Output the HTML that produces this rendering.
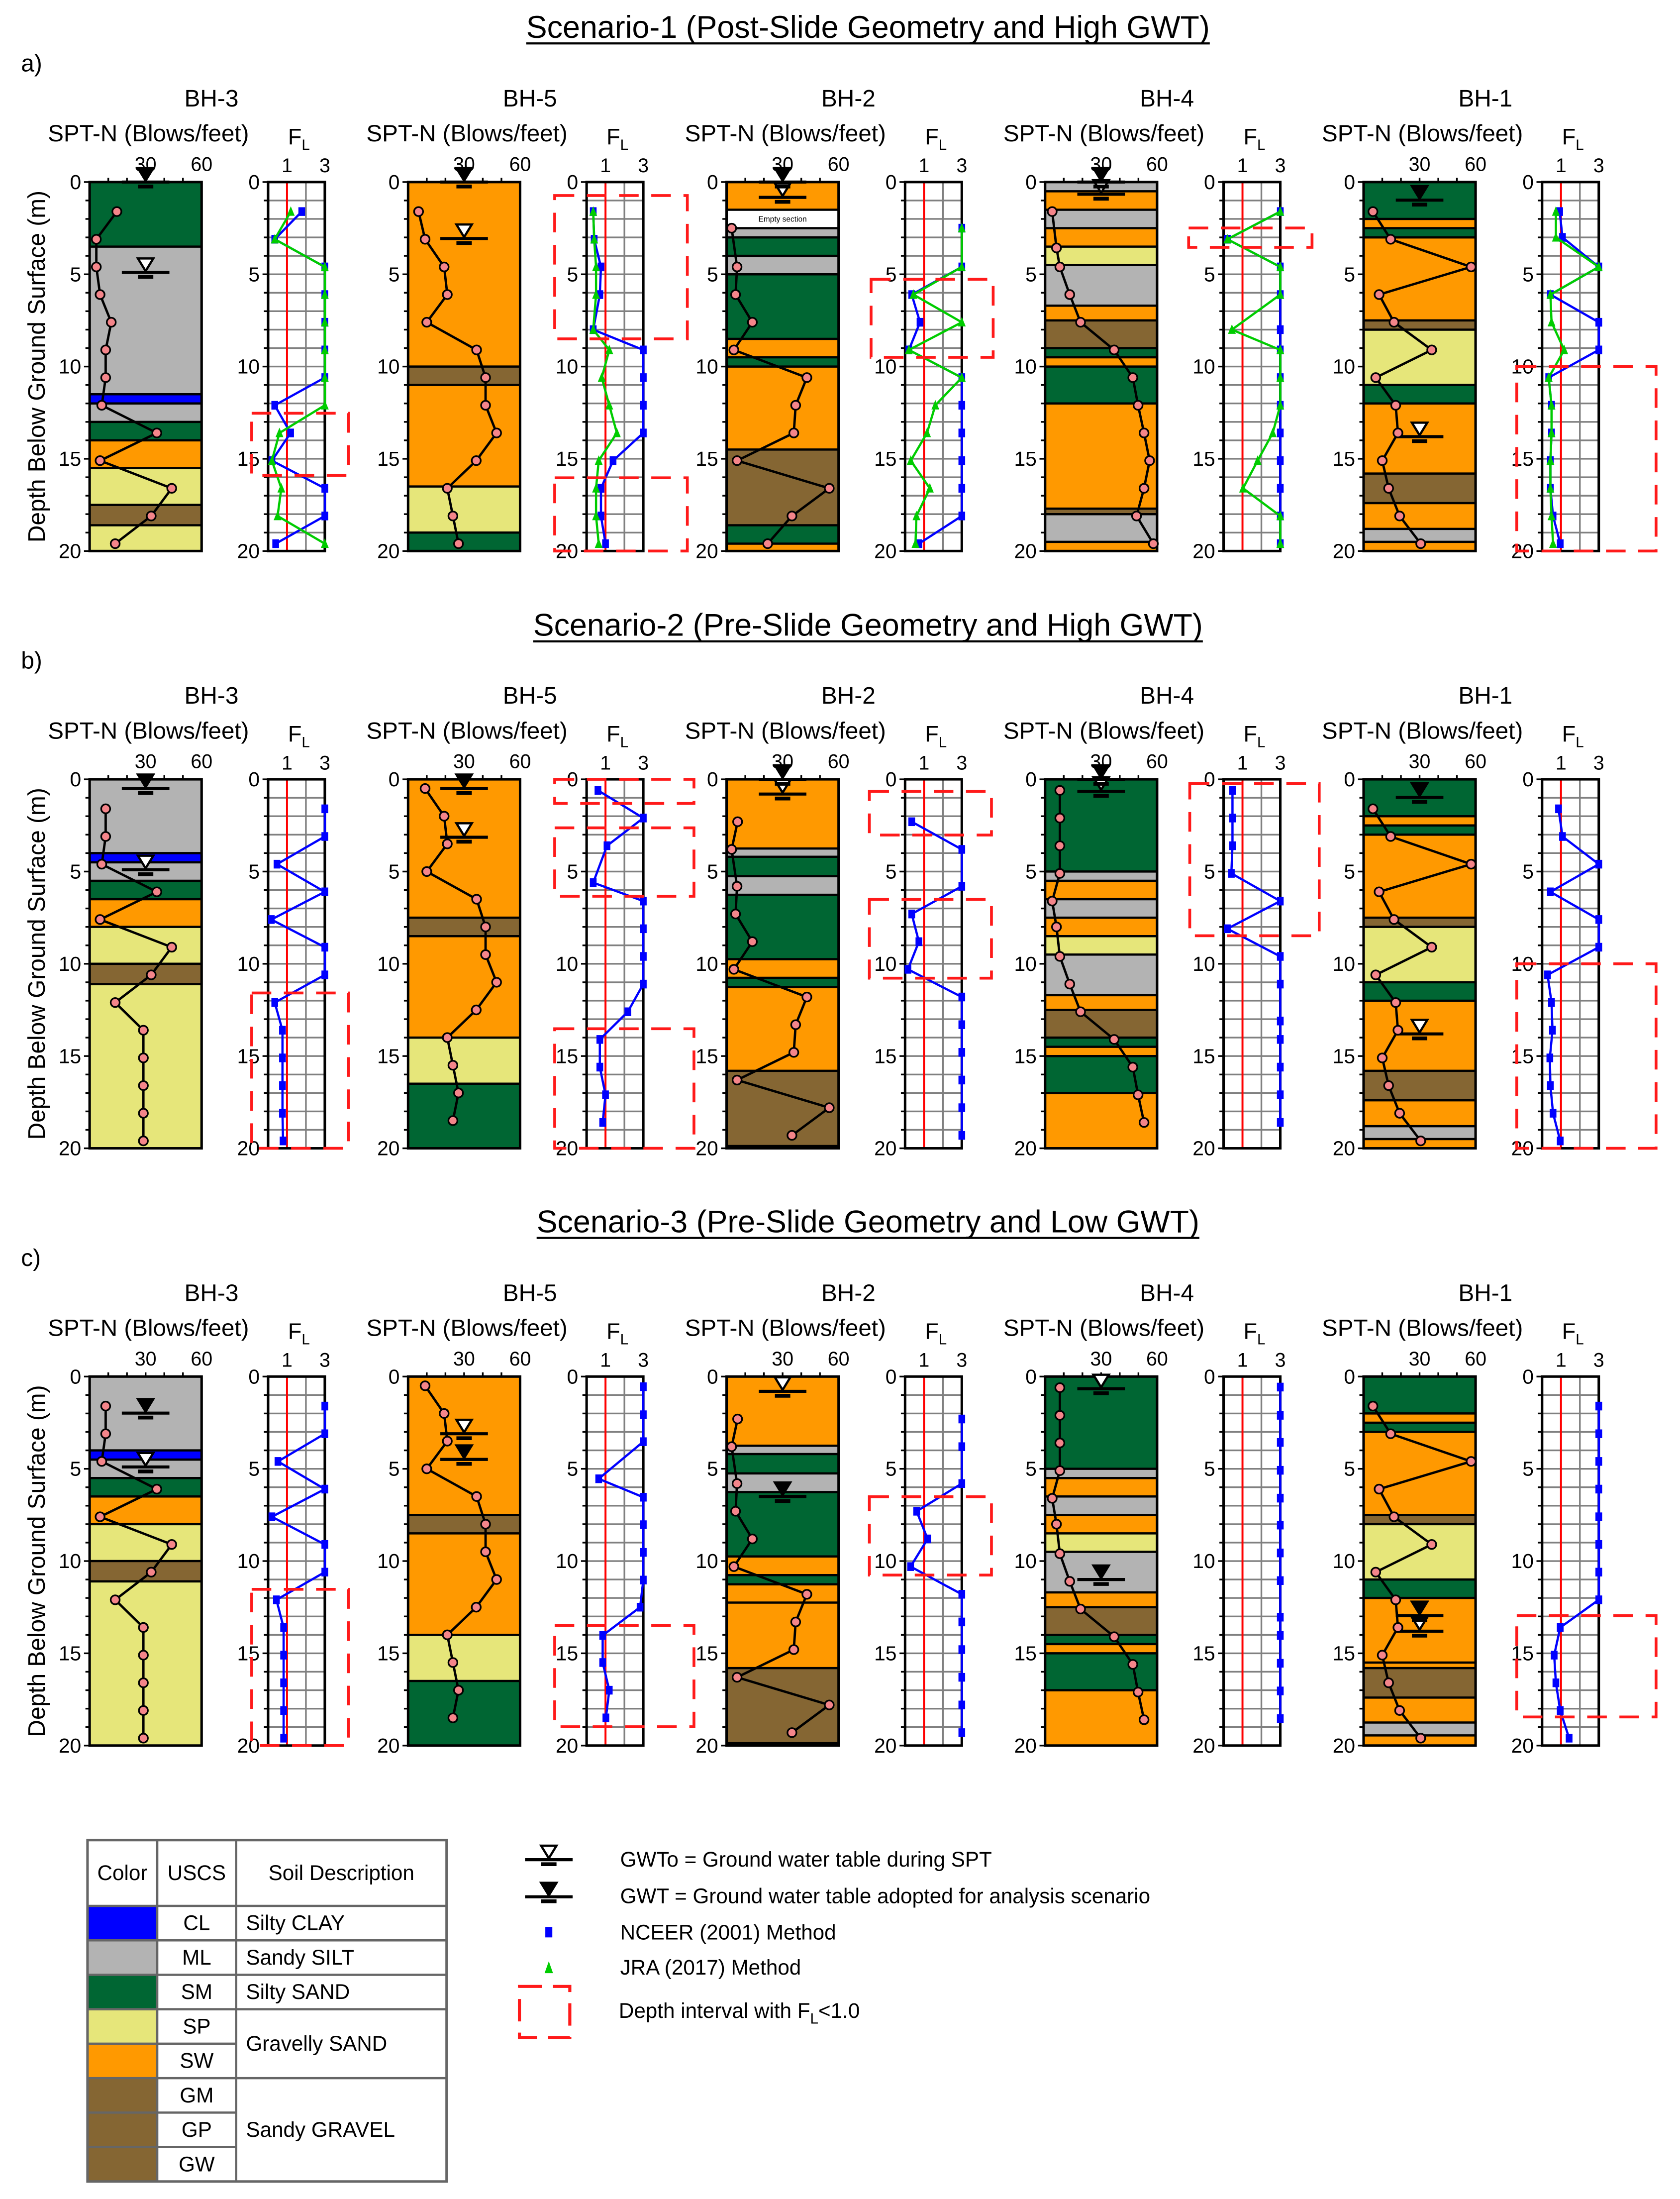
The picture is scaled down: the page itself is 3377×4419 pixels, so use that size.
<!DOCTYPE html>
<html><head><meta charset="utf-8"><title>SPT-N and FL profiles</title>
<style>
html,body{margin:0;padding:0;background:#fff;}
svg{display:block;font-family:"Liberation Sans",Arial,sans-serif;}
</style></head>
<body>
<svg id="chart" xmlns="http://www.w3.org/2000/svg" width="3377" height="4419" viewBox="0 0 1200 1570.3">
<rect x="0" y="0" width="1200" height="1571" fill="#fff"/>
</svg>
<script>
// ---------- DATA ----------
const boreholes = ['BH-3','BH-5','BH-2','BH-4','BH-1'];
const scenarioTitles = ['Scenario-1 (Post-Slide Geometry and High GWT)','Scenario-2 (Pre-Slide Geometry and High GWT)','Scenario-3 (Pre-Slide Geometry and Low GWT)'];
const panelLetters = ['a)','b)','c)'];
const depthTicks = [0,5,10,15,20];
const sptTickLabels = [30,60];
const flTickLabels = [1,3];
const D = [1.6,3.1,4.6,6.1,7.6,9.1,10.6,12.1,13.6,15.1,16.6,18.1,19.6];

// soil layers [top depth, USCS]
const layersA3 = [[0,'SM'],[3.5,'ML'],[11.5,'CL'],[12.0,'ML'],[13.0,'SM'],[14.0,'SW'],[15.5,'SP'],[17.5,'GM'],[18.6,'SP']];
const layersA5 = [[0,'SW'],[10,'GM'],[11,'SW'],[16.5,'SP'],[19,'SM']];
const layersA2 = [[0,'SW'],[1.5,'EMPTY'],[2.5,'ML'],[3,'SM'],[4,'ML'],[5,'SM'],[8.5,'SW'],[9.5,'SM'],[10,'SW'],[14.5,'GM'],[18.6,'SM'],[19.6,'SW']];
const layersA4 = [[0,'ML'],[0.5,'SW'],[1.5,'ML'],[2.5,'SW'],[3.5,'SP'],[4.5,'ML'],[6.7,'SW'],[7.5,'GM'],[9,'SM'],[9.5,'SW'],[10,'SM'],[12,'SW'],[17.7,'GM'],[18,'ML'],[19.5,'SW']];
const layersA1 = [[0,'SM'],[2,'SW'],[2.5,'SM'],[3,'SW'],[7.5,'GM'],[8,'SP'],[11,'SM'],[12,'SW'],[15.8,'GM'],[17.4,'SW'],[18.8,'ML'],[19.5,'SW']];
const layersB3 = [[0,'ML'],[4,'CL'],[4.5,'ML'],[5.5,'SM'],[6.5,'SW'],[8,'SP'],[10,'GM'],[11.1,'SP']];
const layersB5 = [[0,'SW'],[7.5,'GM'],[8.5,'SW'],[14,'SP'],[16.5,'SM']];
const layersB2 = [[0,'SW'],[3.75,'ML'],[4.2,'SM'],[5.25,'ML'],[6.26,'SM'],[9.75,'SW'],[10.76,'SM'],[11.26,'SW'],[15.8,'GM'],[19.86,'BLK']];
const layersB4 = [[0,'SM'],[5,'ML'],[5.5,'SW'],[6.5,'ML'],[7.5,'SW'],[8.5,'SP'],[9.5,'ML'],[11.7,'SW'],[12.5,'GM'],[14,'SM'],[14.5,'SW'],[15,'SM'],[17,'SW']];
const layersC2 = [[0,'SW'],[3.75,'ML'],[4.2,'SM'],[5.25,'ML'],[6.26,'SM'],[9.75,'SW'],[10.76,'SM'],[11.26,'SW'],[12.25,'SW'],[15.8,'GM'],[19.86,'BLK']];
const layersC1 = [[0,'SM'],[2,'SW'],[2.5,'SM'],[3,'SW'],[7.5,'GM'],[8,'SP'],[11,'SM'],[12,'SW'],[15.5,'SW'],[15.8,'GM'],[17.4,'SW'],[18.75,'ML'],[19.45,'SW']];

// SPT-N
const sptDepthA3 = D, sptNA3 = [14.6,3.6,3.6,5.6,11.6,8.6,8.6,6.5,36,5.6,44,33,13.7];
const sptDepthB3 = D, sptNB3 = [8.6,8.6,6.5,36,5.6,44,33,13.7,28.8,28.8,28.8,28.8,28.8];
const sptDepthA5 = D, sptNA5 = [5.6,9.1,19.3,21,10,36.7,41.5,41.5,47.4,36.5,21,24,27];
const sptDepthB5 = [0.5,2,3.5,5,6.5,8,9.5,11,12.5,14,15.5,17,18.5], sptNB5 = [9.1,19.3,21,10,36.7,41.5,41.5,47.4,36.5,21,24,27,24];
const sptDepthA2 = [2.5,4.6,6.1,7.6,9.1,10.6,12.1,13.6,15.1,16.6,18.1,19.6], sptNA2 = [2.7,5.6,4.8,13.8,3.9,43,37,36,5.6,55,35,22];
const sptDepthB2 = [2.3,3.8,5.8,7.3,8.8,10.3,11.8,13.3,14.8,16.3,17.8,19.3], sptNB2 = [5.9,2.7,5.6,4.8,13.8,3.9,43,37,36,5.6,55,35];
const sptDepthA4 = [1.6,3.57,4.6,6.1,7.6,9.1,10.6,12.1,13.6,15.1,16.6,18.1,19.6], sptNA4 = [3.8,6.1,7.9,13.2,19,37,47,49.8,53,56,53,49,58];
const sptDepthB4 = [0.6,2.1,3.6,5.1,6.6,8.0,9.6,11.1,12.6,14.1,15.6,17.1,18.6], sptNB4 = [7.9,7.9,7.9,7.9,3.8,6.1,7.9,13.2,19,37,47,49.8,53];
const sptDepth1 = D, sptN1 = [5,14.5,57.6,8.3,16.3,36.5,6.5,17.2,18.4,10,13.4,19.3,30.6];

// FL values: NCEER (2001) and JRA (2017)
const flDepthA3 = D, nceerA3 = [1.78,0.35,3,3,3,3,3,0.35,1.19,0.2,3,3,0.4], jraA3 = [1.2,0.35,3,3,3,3,3,3,0.6,0.2,0.7,0.5,3];
const flDepthA5 = [1.6,3.1,4.6,6.1,8.0,9.1,10.6,12.1,13.6,15.1,16.6,18.1,19.6], nceerA5 = [0.35,0.4,0.76,0.7,0.35,3,3,3,3,1.4,0.76,0.76,1.0], jraA5 = [0.35,0.4,0.5,0.5,0.35,1.2,0.8,1.2,1.6,0.64,0.5,0.5,0.64];
const flDepthA2 = [2.5,4.6,6.1,7.6,9.1,10.6,12.1,13.6,15.1,16.6,18.1,19.6], nceerA2 = [3,3,0.35,0.79,0.2,3,3,3,3,3,3,0.73], jraA2 = [3,3,0.44,3,0.2,3,1.6,1.16,0.3,1.31,0.6,0.55];
const flDepthA4 = [1.6,3.1,4.6,6.1,8.0,9.1,10.6,12.1,13.6,15.1,16.6,18.1,19.6], nceerA4 = [3,0.2,3,3,3,3,3,3,3,3,3,3,3], jraA4 = [3,0.2,3,3,0.44,3,3,3,2.6,1.8,1.03,3,3];
const flDepthA1 = [1.6,3.0,4.6,6.1,7.6,9.1,10.6,12.1,13.6,15.1,16.6,18.1,19.6], nceerA1 = [0.93,1.08,3,0.44,3,3,0.35,0.5,0.5,0.44,0.44,0.58,0.96], jraA1 = [0.73,0.73,3,0.44,0.5,1.17,0.35,0.5,0.5,0.44,0.44,0.5,0.58];
const flDepthB3 = D, nceerB3 = [3,3,0.47,3,0.17,3,3,0.35,0.76,0.76,0.76,0.76,0.79];
const flDepthB5 = [0.6,2.1,3.6,5.6,6.6,8.1,9.6,11.1,12.6,14.1,15.6,17.1,18.6], nceerB5 = [0.6,3,1.08,0.35,3,3,3,3,2.18,0.7,0.7,1.0,0.85];
const flDepthB2 = [2.3,3.8,5.8,7.3,8.8,10.3,11.8,13.3,14.8,16.3,17.8,19.3], nceerB2 = [0.35,3,3,0.35,0.73,0.15,3,3,3,3,3,3];
const flDepthB4 = [0.6,2.1,3.6,5.1,6.6,8.1,9.6,11.1,13.1,14.1,15.6,17.1,18.6], nceerB4 = [0.47,0.47,0.47,0.41,3,0.2,3,3,3,3,3,3,3];
const flDepthB1 = D, nceerB1 = [0.87,1.08,3,0.44,3,3,0.29,0.5,0.55,0.41,0.44,0.58,0.96];
const flDepthC3 = D, nceerC3 = [3,3,0.52,3,0.2,3,3,0.44,0.82,0.82,0.82,0.82,0.82];
const flDepthC5 = [0.55,2.07,3.53,5.54,6.54,8.03,9.53,11.03,12.5,14.03,15.5,17.0,18.5], nceerC5 = [3,3,3,0.64,3,3,3,3,2.83,0.85,0.85,1.2,1.02];
const flDepthC2 = [2.3,3.8,5.8,7.3,8.8,10.3,11.8,13.3,14.8,16.3,17.8,19.3], nceerC2 = [3,3,3,0.61,1.19,0.29,3,3,3,3,3,3];
const flDepthC4 = [0.57,2.1,3.57,5.08,6.59,8.05,9.56,11.06,13.04,14.03,15.54,17.04,18.54], nceerC4 = [3,3,3,3,3,3,3,3,3,3,3,3,3];
const flDepthC1 = D, nceerC1 = [3,3,3,3,3,3,3,3,0.96,0.64,0.73,0.96,1.43];

// Red boxes: [FL from, FL to, depth from, depth to]
const boxesA = [[[-0.87,4.25,12.53,15.9]],[[-1.69,5.33,0.73,8.5],[-1.69,5.33,16.03,20]],[[-1.8,4.66,5.27,9.5]],[[-1.85,4.68,2.49,3.54]],[[-1.34,6.03,10,20]]];
const boxesB = [[[-0.87,4.25,11.58,20]],[[-1.69,5.68,0,1.31],[-1.69,5.68,2.63,6.34],[-1.69,5.68,13.52,20]],[[-1.89,4.57,0.65,3.02],[-1.89,4.57,6.51,10.78]],[[-1.79,5.06,0.23,8.48]],[[-1.34,6.03,10,20]]];
const boxesC = [[[-0.87,4.25,11.53,20]],[[-1.69,5.68,13.5,18.98]],[[-1.89,4.57,6.51,10.76]],[],[[-1.34,6.03,12.96,18.45]]];

// Groundwater: [GWT adopted (filled), GWTo during SPT (hollow)]
const gwtA = [[0,4.9],[0,3.06],[0,0.83],[0,0.66],[0.98,13.8]];
const gwtB = [[0.5,4.9],[0.5,3.14],[0,0.8],[0,0.65],[0.98,13.8]];
const gwtC = [[1.98,4.9],[4.49,3.1],[6.5,0.8],[11.0,0.66],[12.96,13.8]];

const soilColors = {SM:'#006633',ML:'#b3b3b3',CL:'#0000ff',SP:'#e6e67a',SW:'#ff9900',GM:'#856633',EMPTY:'#ffffff',BLK:'#006633'};

const rows = [
 {layers:[layersA3,layersA5,layersA2,layersA4,layersA1],
  spt:[[sptDepthA3,sptNA3],[sptDepthA5,sptNA5],[sptDepthA2,sptNA2],[sptDepthA4,sptNA4],[sptDepth1,sptN1]],
  fl:[[flDepthA3,nceerA3,jraA3],[flDepthA5,nceerA5,jraA5],[flDepthA2,nceerA2,jraA2],[flDepthA4,nceerA4,jraA4],[flDepthA1,nceerA1,jraA1]],
  boxes:boxesA, gwt:gwtA},
 {layers:[layersB3,layersB5,layersB2,layersB4,layersA1],
  spt:[[sptDepthB3,sptNB3],[sptDepthB5,sptNB5],[sptDepthB2,sptNB2],[sptDepthB4,sptNB4],[sptDepth1,sptN1]],
  fl:[[flDepthB3,nceerB3,null],[flDepthB5,nceerB5,null],[flDepthB2,nceerB2,null],[flDepthB4,nceerB4,null],[flDepthB1,nceerB1,null]],
  boxes:boxesB, gwt:gwtB},
 {layers:[layersB3,layersB5,layersC2,layersB4,layersC1],
  spt:[[sptDepthB3,sptNB3],[sptDepthB5,sptNB5],[sptDepthB2,sptNB2],[sptDepthB4,sptNB4],[sptDepth1,sptN1]],
  fl:[[flDepthC3,nceerC3,null],[flDepthC5,nceerC5,null],[flDepthC2,nceerC2,null],[flDepthC4,nceerC4,null],[flDepthC1,nceerC1,null]],
  boxes:boxesC, gwt:gwtC}
];

// ---------- LAYOUT ----------
const NS='http://www.w3.org/2000/svg';
const svg=document.getElementById('chart');
function mk(tag, attrs, parent){const e=document.createElementNS(NS,tag);for(const k in attrs)e.setAttribute(k,attrs[k]);(parent||svg).appendChild(e);return e;}
const rowTops=[130,556.5,983], H=263.5, titleY=[27,454,880];
const SW_=80, FW=40.5;
function sptLeft(i){return 64+227.5*i;}
function flLeft(i){return 191.5+227.5*i;}
function yOf(r,d){return rowTops[r]+d/20*H;}
function xN(i,n){return sptLeft(i)+n/60*SW_;}
function xFL(i,f){return flLeft(i)+f/3*FW;}

function gwtSymbol(g,cx,y,filled){
  const grp=mk('g',{},g);
  
  
  mk('line',{x1:cx-17,y1:y,x2:cx+17,y2:y,stroke:'#000','stroke-width':2.2},grp);
  mk('polygon',{points:`${cx-5.5},${y-10} ${cx+5.5},${y-10} ${cx},${y-1}`,fill:filled?'#000':'#fff',stroke:'#000','stroke-width':1.6},grp);
  mk('line',{x1:cx-5.5,y1:y+3.2,x2:cx+5.5,y2:y+3.2,stroke:'#000','stroke-width':2.7},grp);
}

rows.forEach((row,r)=>{
  const top=rowTops[r];
  // title
  const t=mk('text',{x:620,y:titleY[r],'text-anchor':'middle','font-size':22.3,fill:'#000'});
  
  
  t.textContent=scenarioTitles[r];
  const tw=t.getComputedTextLength();
  const ul=mk('line',{x1:620-tw/2,y1:titleY[r]+4,x2:620+tw/2,y2:titleY[r]+4,stroke:'#000','stroke-width':1.5});
  
  
  const pl=mk('text',{x:15,y:top-79,'font-size':17,fill:'#000'});
  
  
  pl.textContent=panelLetters[r];
  const yl=mk('text',{x:0,y:0,'font-size':17,'text-anchor':'middle',transform:`translate(32,${top+H/2}) rotate(-90)`,fill:'#000'});
  
  
  yl.textContent='Depth Below Ground Surface (m)';

  boreholes.forEach((bh,i)=>{
    const g=mk('g',{});
    
    
    const L=sptLeft(i), F=flLeft(i);
    const lab=mk('text',{x:L+87,y:top-54,'text-anchor':'middle','font-size':17},g);
    
    
    lab.textContent=bh;
    const sl=mk('text',{x:L+42,y:top-29,'text-anchor':'middle','font-size':16.9},g);
    
    
    sl.textContent='SPT-N (Blows/feet)';
    const fl=mk('text',{x:F+22,y:top-27,'text-anchor':'middle','font-size':16},g);
    
    
    fl.textContent='F';
    const sub=mk('tspan',{'font-size':10.5,dy:4},fl);
    sub.textContent='L';

    // layers
    const lay=row.layers[i];
    lay.forEach((ly,k)=>{
      const d0=ly[0], d1=k<lay.length-1?lay[k+1][0]:20;
      const rc=mk('rect',{x:L,y:yOf(r,d0),width:SW_,height:yOf(r,d1)-yOf(r,d0),fill:soilColors[ly[1]]},g);
      
      
      if(k>0){
        const bl=mk('line',{x1:L,y1:yOf(r,d0),x2:L+SW_,y2:yOf(r,d0),stroke:'#000','stroke-width':ly[1]==='BLK'?1.2:1.6},g);
        
        
      }
      if(ly[1]==='BLK'){
        const bb=mk('rect',{x:L,y:yOf(r,d0),width:SW_,height:yOf(r,d1)-yOf(r,d0),fill:'#000'},g);
        
        
      }
      if(ly[1]==='EMPTY'){
        const et=mk('text',{x:L+SW_/2,y:(yOf(r,d0)+yOf(r,d1))/2+2,'text-anchor':'middle','font-size':5.5},g);
        
        
        et.textContent='Empty section';
      }
    });
    // SPT axis box
    const sb=mk('rect',{x:L,y:top,width:SW_,height:H,fill:'none',stroke:'#000','stroke-width':1.8},g);
    
    
    for(let n=10;n<60;n+=10){
      const tk=mk('line',{x1:xN(i,n),y1:top,x2:xN(i,n),y2:top-3,stroke:'#000','stroke-width':1.2},g);
      
      
    }
    sptTickLabels.forEach(v=>{
      const tl=mk('text',{x:xN(i,v),y:top-8,'text-anchor':'middle','font-size':14},g);
      
      
      tl.textContent=v;
    });
    [L,F].forEach(x0=>{
      for(let d=0;d<=20;d++){
        const dt=mk('line',{x1:x0-(d%5===0?4:3),y1:yOf(r,d),x2:x0,y2:yOf(r,d),stroke:'#000','stroke-width':1.2},g);
        
        
      }
      depthTicks.forEach(d=>{
        const dl=mk('text',{x:x0-6,y:yOf(r,d)+5,'text-anchor':'end','font-size':14.5},g);
        
        
        dl.textContent=d;
      });
    });
    // GWT symbols
    const gw=row.gwt[i];
    gwtSymbol(g,xN(i,30),yOf(r,gw[1]),false);
    gwtSymbol(g,xN(i,30),yOf(r,gw[0]),true);
    // SPT series
    const [sd,sn]=row.spt[i];
    const sp=mk('polyline',{points:sd.map((d,k)=>xN(i,sn[k])+','+yOf(r,d)).join(' '),fill:'none',stroke:'#000','stroke-width':1.7},g);
    
    
    sd.forEach((d,k)=>{
      const c=mk('circle',{cx:xN(i,sn[k]),cy:yOf(r,d),r:3.2,fill:'#f4858a',stroke:'#000','stroke-width':1.2},g);
      
      
    });

    // FL box
    const fb=mk('rect',{x:F,y:top,width:FW,height:H,fill:'#fff'},g);
    
    
    for(let d=1;d<20;d++){
      const gl=mk('line',{x1:F,y1:yOf(r,d),x2:F+FW,y2:yOf(r,d),stroke:'#808080','stroke-width':1.2},g);
      
      
    }
    const vg=mk('line',{x1:xFL(i,2),y1:top,x2:xFL(i,2),y2:top+H,stroke:'#808080','stroke-width':1.2},g);
    
    
    const rl=mk('line',{x1:xFL(i,1),y1:top,x2:xFL(i,1),y2:top+H,stroke:'#ff0000','stroke-width':1.4},g);
    
    
    const ff=mk('rect',{x:F,y:top,width:FW,height:H,fill:'none',stroke:'#000','stroke-width':1.8},g);
    
    
    flTickLabels.forEach(v=>{
      const tl=mk('text',{x:xFL(i,v),y:top-7,'text-anchor':'middle','font-size':14},g);
      
      
      tl.textContent=v;
    });
    // FL series
    const [fd,nc,jr]=row.fl[i];
    const nl=mk('polyline',{points:fd.map((d,k)=>xFL(i,nc[k])+','+yOf(r,d)).join(' '),fill:'none',stroke:'#0000ff','stroke-width':1.6},g);
    
    
    fd.forEach((d,k)=>{
      const s=mk('rect',{x:xFL(i,nc[k])-2.4,y:yOf(r,d)-3.1,width:4.8,height:6.2,fill:'#0000ff'},g);
      
      
    });
    if(jr){
      const jl=mk('polyline',{points:fd.map((d,k)=>xFL(i,jr[k])+','+yOf(r,d)).join(' '),fill:'none',stroke:'#00cc00','stroke-width':1.6},g);
      
      
      fd.forEach((d,k)=>{
        const x=xFL(i,jr[k]), y=yOf(r,d);
        const tp=mk('polygon',{points:`${x-2.8},${y+3} ${x+2.8},${y+3} ${x},${y-3.8}`,fill:'#00cc00'},g);
        
        
      });
    }
    // red boxes
    row.boxes[i].forEach(b=>{
      const x0=xFL(i,b[0]), x1=xFL(i,b[1]), y0=yOf(r,b[2]), y1=yOf(r,b[3]);
      const rb=mk('rect',{x:x0,y:y0,width:x1-x0,height:y1-y0,fill:'none',stroke:'#ff1a1a','stroke-width':2,'stroke-dasharray':'14 9'},g);
      
      
    });
  });
});

// ---------- LEGEND ----------
const legendCodes = ['CL','ML','SM','SP','SW','GM','GP','GW'];
const legendColors = ['#0000ff','#b3b3b3','#006633','#e6e67a','#ff9900','#856633','#856633','#856633'];
const legendDescs = [['Silty CLAY',0,1],['Sandy SILT',1,1],['Silty SAND',2,1],['Gravelly SAND',3,2],['Sandy GRAVEL',5,3]];
const lg=mk('g',{});


const tX=[62.5,112.3,168.7,319], tTop=1314, hdrB=1361, rowH=24.6;
const hdrs=['Color','USCS','Soil Description'];
hdrs.forEach((h,k)=>{
  const ht=mk('text',{x:(tX[k]+tX[k+1])/2,y:(tTop+hdrB)/2+5,'text-anchor':'middle','font-size':15},lg);
  
  
  ht.textContent=h;
});
legendCodes.forEach((c,k)=>{
  const y0=hdrB+k*rowH;
  const cr=mk('rect',{x:tX[0],y:y0,width:tX[1]-tX[0],height:rowH,fill:legendColors[k]},lg);
  
  
  const ct=mk('text',{x:(tX[1]+tX[2])/2,y:y0+rowH/2+5,'text-anchor':'middle','font-size':15},lg);
  
  
  ct.textContent=c;
  const ln=mk('line',{x1:tX[0],y1:y0,x2:tX[2],y2:y0,stroke:'#666','stroke-width':1.6},lg);
  
  
});
legendDescs.forEach(([txt,s,n])=>{
  const y0=hdrB+s*rowH;
  const dt=mk('text',{x:tX[2]+7,y:y0+n*rowH/2+5,'font-size':15},lg);
  
  
  dt.textContent=txt;
  const ln=mk('line',{x1:tX[2],y1:y0,x2:tX[3],y2:y0,stroke:'#666','stroke-width':1.6},lg);
  
  
});
const tBot=hdrB+8*rowH;
const fr=mk('rect',{x:tX[0],y:tTop,width:tX[3]-tX[0],height:tBot-tTop,fill:'none',stroke:'#666','stroke-width':1.8},lg);


[tX[1],tX[2]].forEach(x=>{
  const vl=mk('line',{x1:x,y1:tTop,x2:x,y2:tBot,stroke:'#666','stroke-width':1.6},lg);
  
  
});

const kg=mk('g',{});


gwtSymbol(kg,392,1328,false);
gwtSymbol(kg,392,1354.5,true);
const k1=mk('text',{x:443,y:1333,'font-size':15},kg);


k1.textContent='GWTo = Ground water table during SPT';
const k2=mk('text',{x:443,y:1359,'font-size':15},kg);


k2.textContent='GWT    = Ground water table adopted for analysis scenario';
const ks=mk('rect',{x:389.5,y:1376,width:5,height:7.5,fill:'#0000ff'},kg);


const k3=mk('text',{x:443,y:1385,'font-size':15},kg);


k3.textContent='NCEER (2001) Method';
const kt=mk('polygon',{points:'389,1409 395,1409 392,1400.5',fill:'#00cc00'},kg);


const k4=mk('text',{x:443,y:1410,'font-size':15},kg);


k4.textContent='JRA (2017) Method';
const kb=mk('rect',{x:371,y:1418.5,width:36,height:36.5,fill:'none',stroke:'#ff1a1a','stroke-width':2.2,'stroke-dasharray':'16 8'},kg);


const k5=mk('text',{x:442,y:1441,'font-size':15},kg);


k5.textContent='Depth interval with F';
const k5s=mk('tspan',{'font-size':10.5,dy:4},k5);
k5s.textContent='L';
const k5r=mk('tspan',{dy:-4},k5);
k5r.textContent='<1.0';
</script>
</body></html>
